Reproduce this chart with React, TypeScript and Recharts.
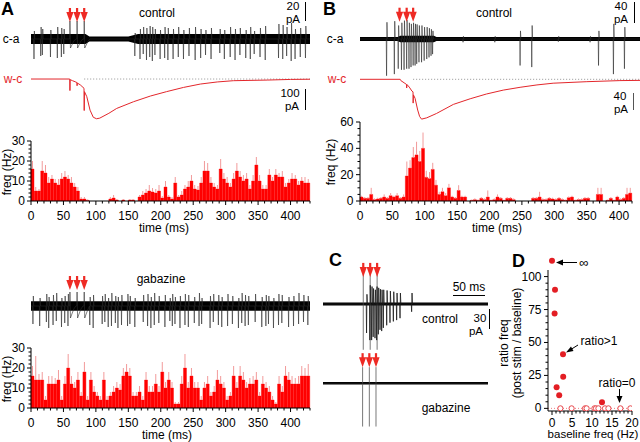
import React from "react";
import {
  ComposedChart,
  Bar,
  Line,
  Area,
  Scatter,
  XAxis,
  YAxis,
  ErrorBar,
  ReferenceLine,
  ReferenceDot,
} from "recharts";

const FONT = "'Liberation Sans', Arial, Helvetica, sans-serif";
const BAR_RED = "#ff0000";
const WHISKER = "#f29a9a";
const TRACE_RED = "#e3262b";
const ARROW_RED = "#ee2a24";

// ---------- PSTH histograms, 5 ms bins ----------
const BIN_MS = 5;
const histControlA = [
  16, 5, 5, 15, 14, 9, 11, 9, 8, 11,
  12, 11, 9, 7, 5, 1, 1, 0.3, 0, 0,
  0, 0, 0, 0, 1, 1.5, 0.5, 0, 0.5, 0,
  0.5, 0.5, 0, 2, 3, 4, 5, 4.5, 4, 5,
  1.5, 7, 2, 1, 9, 2, 3, 6, 7, 10,
  6, 5.5, 9, 15, 15, 9, 7, 6, 16, 11,
  9, 7, 11, 15, 12, 10, 11, 6, 10, 18,
  10, 6, 6, 13, 10, 13, 12, 12, 7, 9,
  11, 11, 8, 10, 9, 9,
];
const histControlAErr = [
  4, 2, 1, 5, 4, 3, 2, 2, 3, 3,
  3, 2, 3, 2, 2, 1, 1, 0.5, 0, 0,
  0, 0, 0, 0, 1, 1.5, 0.5, 0, 0.5, 0,
  0.5, 0.5, 0, 1, 2, 2, 3, 2, 2, 3,
  1, 3, 1, 1, 3, 1, 2, 2, 3, 3,
  2, 2, 3, 5, 4, 3, 2, 2, 5, 3,
  3, 2, 3, 4, 3, 3, 3, 2, 3, 4,
  3, 2, 2, 3, 2, 3, 2, 3, 2, 2,
  3, 2, 2, 2, 3, 2,
];
const histControlB = [
  3, 2, 2, 5, 1, 1.5, 2, 3, 2, 4,
  3, 4, 2, 3, 19, 25, 33, 35, 30, 40,
  18, 17, 24, 12, 5, 7, 4, 10, 3, 2,
  8, 3, 3, 0, 0.5, 1, 0.5, 2, 1, 3,
  0.5, 1, 3, 2, 0.5, 2, 2, 1, 0, 0,
  0, 0, 0, 2, 2, 3, 1, 1, 2, 1.5,
  1, 2, 1, 0.5, 2.5, 3, 0.5, 1, 1, 2,
  2, 0, 0, 5, 5, 0, 0.5, 2, 0.5, 3,
  1, 2, 5, 6,
];
const histControlBErr = [
  1, 1, 1, 5, 1, 1, 1, 2, 1, 2,
  1, 2, 1, 2, 11, 6, 8, 10, 8, 12,
  5, 5, 5, 4, 2, 3, 2, 3, 1, 1,
  4, 1, 1, 0, 0.5, 1, 0.5, 1, 1, 5,
  0.5, 1, 2, 1, 0.5, 1, 1, 1, 0, 0,
  0, 0, 0, 1, 1, 4, 1, 1, 1, 1,
  1, 1, 1, 0.5, 1, 1, 0.5, 1, 1, 1,
  1, 0, 0, 5, 5, 0, 0.5, 1, 0.5, 1,
  1, 1, 5, 4,
];
const histGabazine = [
  16, 14, 14, 14, 4, 12, 12, 12, 14, 4,
  12, 20, 12, 10, 14, 6, 18, 4, 14, 8,
  6, 4, 14, 4, 6, 8, 10, 9, 16, 18,
  16, 6, 6, 8, 4, 14, 8, 8, 12, 8,
  18, 10, 14, 10, 2, 2, 12, 20, 10, 16,
  10, 10, 4, 10, 12, 6, 8, 14, 12, 10,
  4, 6, 16, 10, 16, 14, 10, 12, 12, 14,
  6, 12, 10, 8, 4, 2, 12, 8, 16, 14,
  12, 12, 12, 16, 16, 16,
];
const histGabazineErr = [
  5, 12, 3, 4, 2, 4, 4, 3, 5, 2,
  4, 7, 4, 3, 4, 2, 5, 2, 4, 3,
  2, 2, 4, 2, 2, 3, 3, 3, 4, 4,
  4, 2, 2, 3, 2, 4, 3, 3, 5, 3,
  5, 3, 4, 3, 1, 1, 4, 7, 3, 4,
  3, 3, 2, 3, 4, 2, 3, 5, 4, 3,
  2, 2, 5, 3, 5, 4, 3, 3, 4, 4,
  2, 4, 3, 3, 2, 1, 4, 3, 5, 4,
  4, 3, 4, 5, 4, 6,
];

// ---------- cell-attached spikes: time (ms), negative peak, positive peak (pA) ----------
const caA_t = [4.6, 15, 17.5, 30, 40.6, 46.8, 50.5, 160, 168, 173, 178, 183, 187, 191, 199, 206, 211, 219, 227, 235, 243.5, 253, 261.5, 269, 277.5, 291, 298, 307, 314.5, 322, 331, 338, 344, 353, 361, 381.5, 388, 394, 401, 407, 415, 423];
const caA_down = [20, 17, 16, 18, 19, 18, 15, 17, 20, 15, 21, 18, 22, 16, 20, 19, 21, 20, 18, 20, 17, 21, 19, 16, 20, 14, 20, 18, 21, 16, 19, 20, 15, 18, 21, 19, 20, 17, 22, 20, 18, 19];
const caA_up = [8, 12, 10, 9, 12, 11, 10, 6, 10, 12, 11, 13, 12, 10, 9, 12, 11, 10, 12, 9, 11, 12, 10, 9, 11, 10, 9, 12, 10, 11, 9, 12, 8, 11, 13, 15, 14, 12, 16, 10, 11, 13];

const caB_t = [41, 53, 59, 64, 68, 72, 75.6, 78.7, 82, 85, 87.5, 91, 95, 99, 103, 106.5, 109.6, 112, 159, 208, 247, 265, 306, 355, 368, 391, 408];
const caB_down = [68, 65, 55, 57, 57, 55, 55, 52, 49, 49, 46, 43, 43, 40, 37, 34, 31, 28, 6, 6, 49, 52, 5, 6, 49, 65, 55];
const caB_up = [31, 33, 25, 30, 34, 35, 30, 28, 30, 28, 27, 25, 25, 22, 22, 20, 18, 15, 5, 5, 15, 25, 5, 5, 15, 28, 22];

const caGab_t = [3, 13.4, 23.7, 27.3, 34, 39, 47, 52, 57, 90.6, 95.8, 109.7, 113.8, 119, 124, 130, 134, 139.5, 148.8, 152.4, 160, 173, 179.7, 184.8, 190, 197, 206.4, 214, 217.8, 221.9, 229.6, 237.3, 242.5, 251.7, 259, 263, 276, 281, 288.8, 294, 303, 310.4, 319.7, 324.8, 330, 335, 345.5, 355.7, 362, 366, 373.7, 381.5, 386.6, 397, 404.6, 412.4, 420, 426.7];
const caGab_down = [18, 20, 16, 22, 19, 15, 21, 17, 20, 19, 22, 18, 16, 21, 20, 17, 22, 19, 20, 18, 21, 16, 20, 22, 19, 17, 21, 15, 20, 18, 22, 19, 21, 17, 20, 18, 22, 16, 19, 21, 20, 18, 22, 17, 20, 19, 16, 21, 20, 18, 22, 19, 17, 21, 20, 18, 16, 19];
const caGab_up = [10, 8, 12, 9, 11, 13, 8, 10, 12, 9, 11, 10, 12, 8, 13, 10, 9, 11, 12, 10, 8, 11, 12, 9, 13, 10, 11, 8, 12, 9, 10, 12, 11, 9, 13, 8, 10, 12, 11, 9, 12, 10, 8, 13, 11, 10, 12, 9, 11, 10, 8, 12, 11, 9, 10, 13, 11, 10];

const caC_t = [66, 71, 73.7, 76, 78.8, 81.3, 83.8, 86.4, 88.9, 91.4, 96.5, 101.5, 106.6, 111.6, 116.7, 134.3];
const caC_down = [45, 56, 56, 51, 53, 56, 47, 40, 42, 37, 33, 29, 27, 25, 22, 12];
const caC_up = [15, 29, 27, 24, 22, 27, 25, 23, 22, 22, 21, 20, 19, 17, 17, 17];

// noise band half-widths (pA)
const bandA_t = [0, 84, 90, 150, 165, 430];
const bandA_w = [5, 5, 2.5, 2.5, 5, 5];
const bandB_t = [0, 58, 62, 114, 118, 432];
const bandB_w = [3.5, 3.5, 6, 6, 3.5, 3.5];
const bandGab_t = [0, 430];
const bandGab_w = [4.7, 4.7];
const bandCc_t = [0, 250];
const bandCc_w = [2.3, 2.3];
const bandCg_t = [0, 250];
const bandCg_w = [1.9, 1.9];

// stimulus times (ms)
const stimA = [60, 71, 82];
const stimB = [61, 72, 82];
const stimCControl = [61, 71.5, 82];
const stimCGabazine = [60, 70.2, 80.3];

// stimulus artifact waveform in the extracellular trace: [dt ms, pA]
const artifactControl = [[-0.3, 0], [0, 18], [0.8, -9], [3, -6], [6, -2], [9, 0]];
const artifactGabazine = [[-0.3, 0], [0, 14], [0.8, -12], [3, -8], [6, -3], [9, 0]];

// whole-cell currents: time (ms), pA
const wcA_t = [0, 59.7, 60, 60.4, 64, 68, 70.8, 71, 71.4, 76, 81.7, 82, 82.4, 86, 91, 96, 101, 106, 120, 132, 158, 184, 209, 235, 261, 287, 312, 364, 400, 430];
const wcA_v = [0, 0, -55, -3, -8, -13, -17, -32, -19, -28, -44, -150, -60, -84, -148, -182, -189, -186, -163, -140, -108, -81, -60, -40, -24, -14, -8, -5, -2, -1];
const wcB_t = [0, 62, 63, 68, 71.8, 72, 72.4, 76, 80, 81.8, 82, 82.4, 85, 89, 92, 95, 103, 118, 144, 170, 195, 221, 247, 273, 298, 350, 401, 432];
const wcB_v = [0, 0, -3, -8, -12, -20, -12, -18, -27, -29, -55, -36, -44, -71, -86, -92, -89, -79, -58, -45, -34, -25, -18.5, -13, -9, -5.5, -3, -2.5];

// ---------- panel D ----------
const infX = 0;
const infY = 112;
const ratioPosX = [0.75, 0.65, 2.75, 2.8, 1.15, 1.8, 12.5];
const ratioPosY = [90, 72, 41, 24, 16, 10, 4.6];
const ratioZeroX = [2.1, 4.9, 8.25, 8.65, 10.6, 11, 11.6, 13.25, 14.1, 17.1, 19.6];
const D_X_MIN = -1;
const D_X_MAX = 20;
const D_Y_MIN = -2;
const D_Y_MAX = 105;

const range = (a: number, b: number, s: number) => {
  const out: number[] = [];
  for (let v = a; v <= b + 1e-9; v += s) out.push(Math.round(v * 1000) / 1000);
  return out;
};

function spikeData(times: number[], downs: number[], ups: number[], stims: number[], art: number[][], end: number) {
  const pts: { t: number; v: number }[] = [{ t: 0, v: 0 }, { t: end, v: 0 }];
  times.forEach((t, i) => {
    pts.push({ t: t - 0.5, v: 0 }, { t, v: -downs[i] }, { t: t + 0.6, v: ups[i] }, { t: t + 1.3, v: 0 });
  });
  stims.forEach((s) => art.forEach(([dt, v]) => pts.push({ t: s + dt, v })));
  return pts.sort((a, b) => a.t - b.t);
}

const bandData = (ts: number[], ws: number[]) => ts.map((t, i) => ({ t, band: [-ws[i], ws[i]] }));
const wcData = (ts: number[], vs: number[]) => ts.map((t, i) => ({ t, v: vs[i] }));
const histData = (vals: number[], errs: number[]) =>
  vals.map((v, i) => ({ bin: i * BIN_MS + BIN_MS / 2, v, err: [0, errs[i]] }));

const isMajor = (v: number, every: number) => Math.abs(v / every - Math.round(v / every)) < 1e-6;

function axisTick(orient: "bottom" | "left", majorEvery: number, majorLen: number, minorLen: number, gap: number) {
  return (props: any) => {
    const { x, y, payload } = props;
    const v = Number(payload.value);
    const major = isMajor(v, majorEvery);
    const len = major ? majorLen : minorLen;
    if (orient === "bottom") {
      return (
        <g>
          <line x1={x} x2={x} y1={y} y2={y + len} stroke="#000" strokeWidth={1} />
          {major && (
            <text x={x} y={y + gap} textAnchor="middle" dominantBaseline="central" fontSize={12} fontFamily={FONT} fill="#000">
              {v}
            </text>
          )}
        </g>
      );
    }
    return (
      <g>
        <line x1={x} x2={x - len} y1={y} y2={y} stroke="#000" strokeWidth={1} />
        {major && (
          <text x={x - gap} y={y} textAnchor="end" dominantBaseline="central" fontSize={12} fontFamily={FONT} fill="#000">
            {v}
          </text>
        )}
      </g>
    );
  };
}

// y tick of panel D, placed with the chart's own scale via a ReferenceDot on the axis
const leftTickShape = (v: number, majorEvery: number, gap: number) => (p: any) => {
  const major = isMajor(v, majorEvery);
  return (
    <g>
      <line x1={p.cx - (major ? 4 : 2.5)} x2={p.cx} y1={p.cy} y2={p.cy} stroke="#000" strokeWidth={1} />
      {major && (
        <text x={p.cx - gap} y={p.cy} textAnchor="end" dominantBaseline="central" fontSize={12} fontFamily={FONT} fill="#000">
          {v}
        </text>
      )}
    </g>
  );
};

const StimArrow = (p: any) => {
  const { cx, cy } = p;
  return (
    <g>
      <rect x={cx - 1.1} y={cy - 14} width={2.2} height={5} fill={ARROW_RED} />
      <polygon points={`${cx - 3.6},${cy - 10} ${cx + 3.6},${cy - 10} ${cx},${cy}`} fill={ARROW_RED} />
    </g>
  );
};

const abs = (left: number, top: number): React.CSSProperties => ({ position: "absolute", left, top });
const NO_MARGIN = { top: 0, right: 0, bottom: 0, left: 0 };

type TraceProps = {
  left: number; top: number; width: number; height: number;
  xMax: number; yTop: number; yBottom: number;
  band: { t: number; band: number[] }[];
  spikes: { t: number; v: number }[];
  stims: number[]; arrowTip: number;
};

function CaTrace(p: TraceProps) {
  return (
    <div style={abs(p.left, p.top)}>
      <ComposedChart width={p.width} height={p.height} margin={NO_MARGIN}>
        <XAxis type="number" dataKey="t" domain={[0, p.xMax]} hide allowDataOverflow />
        <YAxis type="number" domain={[p.yBottom, p.yTop]} hide allowDataOverflow />
        <Area data={p.band} dataKey="band" type="linear" stroke="none" fill="#000" fillOpacity={1} isAnimationActive={false} />
        <Line data={p.spikes} dataKey="v" type="linear" stroke="#2a2a2a" strokeWidth={0.6} dot={false} isAnimationActive={false} />
        {p.stims.map((s) => (
          <ReferenceDot key={s} x={s} y={p.arrowTip} ifOverflow="visible" shape={StimArrow} />
        ))}
      </ComposedChart>
    </div>
  );
}

function WcTrace(p: { left: number; top: number; width: number; height: number; xMax: number; yTop: number; yBottom: number; data: { t: number; v: number }[]; dottedFrom: number }) {
  return (
    <div style={abs(p.left, p.top)}>
      <ComposedChart width={p.width} height={p.height} margin={NO_MARGIN}>
        <XAxis type="number" dataKey="t" domain={[0, p.xMax]} hide allowDataOverflow />
        <YAxis type="number" domain={[p.yBottom, p.yTop]} hide allowDataOverflow />
        <ReferenceLine segment={[{ x: p.dottedFrom, y: 0 }, { x: p.xMax, y: 0 }]} stroke="#777" strokeDasharray="1 2" strokeWidth={0.8} />
        <Line data={p.data} dataKey="v" type="linear" stroke={TRACE_RED} strokeWidth={1} dot={false} isAnimationActive={false} />
      </ComposedChart>
    </div>
  );
}

function Histogram(p: {
  left: number; top: number; width: number; height: number;
  yAxisW: number; marginTop: number; marginRight: number; xAxisH: number;
  data: { bin: number; v: number; err: number[] }[];
  xMax: number; yMax: number; yMinor: number; yMajor: number; yGap: number;
}) {
  return (
    <div style={abs(p.left, p.top)}>
      <ComposedChart
        width={p.width}
        height={p.height}
        data={p.data}
        margin={{ top: p.marginTop, right: p.marginRight, left: 0, bottom: 0 }}
        barCategoryGap={0}
        barGap={0}
      >
        <XAxis xAxisId="bins" dataKey="bin" type="category" orientation="top" height={0} hide />
        <XAxis
          xAxisId="time"
          dataKey="bin"
          type="number"
          domain={[0, p.xMax]}
          allowDataOverflow
          ticks={range(0, p.xMax, 10)}
          interval={0}
          height={p.xAxisH}
          tickSize={0}
          tickMargin={0}
          axisLine={{ stroke: "#000", strokeWidth: 1 }}
          tick={axisTick("bottom", 50, 4, 2.5, 14.5)}
        />
        <YAxis
          type="number"
          domain={[0, p.yMax]}
          allowDataOverflow
          ticks={range(0, p.yMax, p.yMinor)}
          interval={0}
          width={p.yAxisW}
          tickSize={0}
          tickMargin={0}
          axisLine={{ stroke: "#000", strokeWidth: 1 }}
          tick={axisTick("left", p.yMajor, 4, 2.5, p.yGap)}
        />
        <Bar xAxisId="bins" dataKey="v" fill={BAR_RED} stroke={BAR_RED} strokeWidth={0.4} isAnimationActive={false}>
          <ErrorBar dataKey="err" width={0} stroke={WHISKER} strokeWidth={1} direction="y" />
        </Bar>
      </ComposedChart>
    </div>
  );
}

const OpenDot = (p: any) => <circle cx={p.cx} cy={p.cy} r={2.6} fill="#fff" stroke="#e8474c" strokeWidth={1} />;
const FilledDot = (p: any) => <circle cx={p.cx} cy={p.cy} r={3} fill="#e31e24" />;

function PanelD() {
  const pos = ratioPosX.map((x, i) => ({ x, y: ratioPosY[i] }));
  const zero = ratioZeroX.map((x) => ({ x, y: 0 }));
  return (
    <div style={abs(500, 255)}>
      <ComposedChart width={140} height={185} margin={{ top: 15, right: 8, left: 0, bottom: 0 }}>
        <XAxis
          type="number"
          dataKey="x"
          domain={[D_X_MIN, D_X_MAX]}
          allowDataOverflow
          ticks={range(0, D_X_MAX, 1)}
          interval={0}
          height={29}
          tickSize={0}
          tickMargin={0}
          axisLine={{ stroke: "#000" }}
          tick={axisTick("bottom", 5, 4, 2.5, 11.5)}
        />
        <YAxis
          type="number"
          dataKey="y"
          domain={[D_Y_MIN, D_Y_MAX]}
          allowDataOverflow
          width={48}
          tick={false}
          tickLine={false}
          axisLine={{ stroke: "#000" }}
        />
        {range(0, 100, 5).map((v) => (
          <ReferenceDot key={`yt${v}`} x={D_X_MIN} y={v} ifOverflow="visible" shape={leftTickShape(v, 25, 6.5)} />
        ))}
        <ReferenceLine y={0} stroke="#ef7f83" strokeDasharray="1 2" strokeWidth={1} />
        <Scatter data={zero} shape={OpenDot} isAnimationActive={false} />
        <Scatter data={pos} shape={FilledDot} isAnimationActive={false} />
        <ReferenceDot x={infX} y={infY} ifOverflow="visible" shape={FilledDot} />
      </ComposedChart>
    </div>
  );
}

function T(p: { x: number; y: number; children: React.ReactNode; size?: number; color?: string; anchor?: string; bold?: boolean; rotate?: boolean }) {
  return (
    <text
      x={p.x}
      y={p.y}
      fontSize={p.size ?? 12}
      fontFamily={FONT}
      fontWeight={p.bold ? 700 : 400}
      fill={p.color ?? "#000"}
      textAnchor={p.anchor ?? "middle"}
      dominantBaseline="central"
      transform={p.rotate ? `rotate(-90 ${p.x} ${p.y})` : undefined}
    >
      {p.children}
    </text>
  );
}

function Overlay() {
  return (
    <svg width={640} height={442} style={{ position: "absolute", left: 0, top: 0, pointerEvents: "none" }}>
      {/* A */}
      <T x={1} y={9} size={18} bold anchor="start">A</T>
      <T x={157} y={12.5}>control</T>
      <T x={11} y={39}>c-a</T>
      <T x={13} y={79} color={TRACE_RED}>w-c</T>
      <T x={293} y={5.5} size={11.5}>20</T>
      <T x={293} y={18.5} size={11.5}>pA</T>
      <line x1={305.5} x2={305.5} y1={2} y2={21} stroke="#000" />
      <T x={290} y={92.5} size={11.5}>100</T>
      <T x={292} y={105.5} size={11.5}>pA</T>
      <line x1={305.5} x2={305.5} y1={89} y2={110} stroke="#000" />
      <T x={7} y={172} rotate>freq (Hz)</T>
      <T x={164} y={228}>time (ms)</T>

      {/* B */}
      <T x={323} y={9} size={18} bold anchor="start">B</T>
      <T x={494} y={12.5}>control</T>
      <T x={335} y={39}>c-a</T>
      <T x={337} y={79} color={TRACE_RED}>w-c</T>
      <T x={621} y={5.5} size={11.5}>40</T>
      <T x={621} y={18.5} size={11.5}>pA</T>
      <line x1={634.5} x2={634.5} y1={2} y2={23} stroke="#000" />
      <T x={620} y={96} size={11.5}>40</T>
      <T x={621} y={109} size={11.5}>pA</T>
      <line x1={633.5} x2={633.5} y1={93} y2={110} stroke="#555" />
      <T x={331} y={162} rotate>freq (Hz)</T>
      <T x={497} y={228}>time (ms)</T>

      {/* A gabazine */}
      <T x={161} y={279}>gabazine</T>
      <T x={6.5} y={379} rotate>freq (Hz)</T>
      <T x={167} y={435}>time (ms)</T>

      {/* C */}
      <T x={329} y={260} size={18} bold anchor="start">C</T>
      <T x={440} y={319}>control</T>
      <T x={446} y={408}>gabazine</T>
      <T x={469} y={287}>50 ms</T>
      <line x1={453} x2={485} y1={295.5} y2={295.5} stroke="#000" />
      <T x={480} y={317.5} size={11.5}>30</T>
      <T x={476} y={330.5} size={11.5}>pA</T>
      <line x1={489.5} x2={489.5} y1={309} y2={329} stroke="#000" />

      {/* D */}
      <T x={512} y={261} size={18} bold anchor="start">D</T>
      <T x={584} y={262.5} size={13}>∞</T>
      <line x1={577} x2={561} y1={262.5} y2={262.5} stroke="#000" />
      <polygon points="556,262.5 563,259.5 563,265.5" fill="#000" />
      <T x={599} y={341}>ratio&gt;1</T>
      <line x1={578} x2={570} y1={345} y2={350} stroke="#000" />
      <polygon points="566,352.5 571,346.5 573.5,351" fill="#000" />
      <T x={617} y={383}>ratio=0</T>
      <line x1={619.5} x2={619.5} y1={389} y2={398} stroke="#000" />
      <polygon points="619.5,403 616.5,396 622.5,396" fill="#000" />
      <T x={504} y={343} rotate>ratio freq</T>
      <T x={517} y={343} rotate>(post stim / baseline)</T>
      <T x={593} y={434} size={11.5}>baseline freq (Hz)</T>
    </svg>
  );
}

export default function App() {
  const spikesA = spikeData(caA_t, caA_down, caA_up, stimA, artifactControl, 430);
  const spikesB = spikeData(caB_t, caB_down, caB_up, [], artifactControl, 432);
  const spikesGab = spikeData(caGab_t, caGab_down, caGab_up, stimA, artifactGabazine, 430);
  const spikesC = spikeData(caC_t, caC_down, caC_up, [], artifactControl, 250);
  const spikesCg = spikeData([], [], [], [], artifactGabazine, 250);

  return (
    <div style={{ position: "absolute", left: 0, top: 0, width: 640, height: 442, background: "#fff", overflow: "hidden" }}>
      {/* A: control */}
      <CaTrace left={31} top={0} width={279} height={72} xMax={430} yTop={39} yBottom={-33}
        band={bandData(bandA_t, bandA_w)} spikes={spikesA} stims={stimA} arrowTip={17} />
      <WcTrace left={31} top={68} width={279} height={60} xMax={430} yTop={52.4} yBottom={-233}
        data={wcData(wcA_t, wcA_v)} dottedFrom={82} />
      <Histogram left={0} top={128} width={316} height={108} yAxisW={31} marginTop={13} marginRight={6} xAxisH={35}
        data={histData(histControlA, histControlAErr)} xMax={430} yMax={30} yMinor={2} yMajor={10} yGap={6} />

      {/* B: control */}
      <CaTrace left={360} top={0} width={280} height={80} xMax={432} yTop={72.2} yBottom={-75.9}
        band={bandData(bandB_t, bandB_w)} spikes={spikesB} stims={stimB} arrowTip={32} />
      <WcTrace left={360} top={68} width={280} height={60} xMax={432} yTop={26.1} yBottom={-112.5}
        data={wcData(wcB_t, wcB_v)} dottedFrom={82} />
      <Histogram left={320} top={110} width={320} height={126} yAxisW={40} marginTop={12} marginRight={8} xAxisH={35}
        data={histData(histControlB, histControlBErr)} xMax={420} yMax={60} yMinor={5} yMajor={20} yGap={6.5} />

      {/* A: gabazine */}
      <CaTrace left={31} top={270} width={279} height={70} xMax={430} yTop={36} yBottom={-34}
        band={bandData(bandGab_t, bandGab_w)} spikes={spikesGab} stims={stimA} arrowTip={16} />
      <Histogram left={0} top={336} width={316} height={106} yAxisW={31} marginTop={12} marginRight={6} xAxisH={34}
        data={histData(histGabazine, histGabazineErr)} xMax={430} yMax={30} yMinor={2} yMajor={10} yGap={6} />

      {/* C */}
      <div style={abs(323, 262)}>
        <ComposedChart width={165} height={95} margin={NO_MARGIN}>
          <XAxis type="number" dataKey="t" domain={[0, 250]} hide allowDataOverflow />
          <YAxis type="number" domain={[-82.2, 65.1]} hide allowDataOverflow />
          {stimCControl.map((s) => (
            <ReferenceLine key={s} segment={[{ x: s, y: 50 }, { x: s, y: -71 }]} stroke="#555" strokeWidth={0.8} />
          ))}
          <Area data={bandData(bandCc_t, bandCc_w)} dataKey="band" type="linear" stroke="none" fill="#000" fillOpacity={1} isAnimationActive={false} />
          <Line data={spikesC} dataKey="v" type="linear" stroke="#1a1a1a" strokeWidth={0.8} dot={false} isAnimationActive={false} />
          {stimCControl.map((s) => (
            <ReferenceDot key={`a${s}`} x={s} y={42} ifOverflow="visible" shape={StimArrow} />
          ))}
        </ComposedChart>
      </div>
      <div style={abs(323, 350)}>
        <ComposedChart width={165} height={85} margin={NO_MARGIN}>
          <XAxis type="number" dataKey="t" domain={[0, 250]} hide allowDataOverflow />
          <YAxis type="number" domain={[-80.1, 51.6]} hide allowDataOverflow />
          {stimCGabazine.map((s) => (
            <ReferenceLine key={s} segment={[{ x: s, y: 25 }, { x: s, y: -67 }]} stroke="#555" strokeWidth={0.8} />
          ))}
          <Area data={bandData(bandCg_t, bandCg_w)} dataKey="band" type="linear" stroke="none" fill="#000" fillOpacity={1} isAnimationActive={false} />
          <Line data={spikesCg} dataKey="v" type="linear" stroke="#1a1a1a" strokeWidth={0.8} dot={false} isAnimationActive={false} />
          {stimCGabazine.map((s) => (
            <ReferenceDot key={`a${s}`} x={s} y={25} ifOverflow="visible" shape={StimArrow} />
          ))}
        </ComposedChart>
      </div>

      <PanelD />
      <Overlay />
    </div>
  );
}
